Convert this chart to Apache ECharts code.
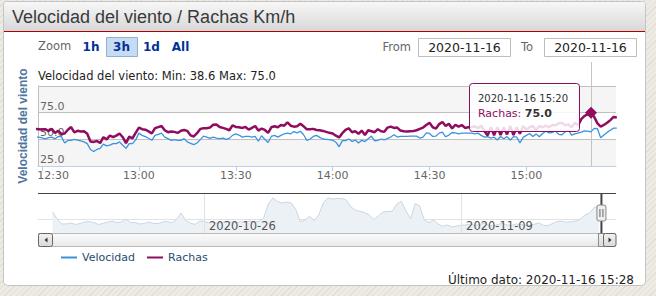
<!DOCTYPE html>
<html><head><meta charset="utf-8">
<script src="https://cdn.jsdelivr.net/npm/echarts@6/dist/echarts.min.js"></script>
<style>
html,body{margin:0;padding:0;width:656px;height:296px;overflow:hidden;
background-color:#eeebe4;
background-image:repeating-linear-gradient(135deg, rgba(120,110,90,0.10) 0 1px, transparent 1px 4px);}
#c{width:656px;height:296px;}
</style></head><body><div id="c"></div>
<script>
// ---------------- DATA ----------------
const chartTitle = 'Velocidad del viento / Rachas Km/h';
const yAxisTitle = 'Velocidad del viento';
const seriesNames = ['Velocidad', 'Rachas'];
const seriesStart = '2020-11-16 12:28';   // first sample, one sample per minute
const stepMinutes = 1;
const velocidad = [52.1,52.0,51.3,50.5,51.5,52.0,50.5,52.5,52.5,46.5,
 49.0,49.1,50.0,49.3,48.5,47.6,46.0,40.5,38.6,40.5,
 41.5,45.5,43.9,44.5,46.0,46.0,47.6,44.5,41.5,46.0,
 46.0,49.5,55.8,53.7,52.5,51.0,49.1,53.7,54.6,55.8,
 52.1,50.6,49.1,49.7,49.1,49.1,50.6,47.6,46.3,45.1,
 46.6,49.7,53.0,52.1,50.9,52.1,51.2,50.6,51.2,50.0,
 50.9,53.7,55.2,54.0,52.1,52.7,52.7,52.1,52.7,48.2,
 53.4,50.0,47.0,52.7,53.7,52.1,53.7,55.2,55.8,55.2,
 57.3,56.1,57.6,54.3,49.1,50.3,52.7,53.7,51.8,50.3,
 50.0,49.7,49.1,47.3,43.0,48.8,48.8,50.3,47.9,49.4,
 46.6,49.1,47.9,50.6,53.0,48.5,49.1,50.3,49.4,50.9,
 52.1,54.3,52.1,52.7,52.7,52.7,53.0,53.0,53.0,51.2,
 52.1,56.1,55.5,52.7,53.0,55.8,56.7,52.4,54.0,56.4,
 56.1,55.2,55.8,55.8,55.8,55.8,55.2,55.8,53.7,52.1,
 52.5,51.2,52.0,49.4,52.7,50.6,52.5,49.4,52.5,52.1,
 46.6,51.8,53.7,55.5,52.7,54.9,52.4,55.5,57.6,56.1,
 56.4,57.9,54.6,54.3,57.0,58.8,54.0,55.2,55.8,56.7,
 57.9,57.6,57.0,60.3,60.0,51.5,54.0,56.5,58.5,60.5,60.5];
const rachas = [59.8,59.5,59.2,59.5,57.8,59.8,56.0,58.0,55.0,55.5,
 59.0,61.5,56.5,58.0,57.3,57.5,55.2,48.0,47.6,48.5,
 46.5,52.0,50.0,53.5,52.0,53.5,55.5,52.0,46.5,52.5,
 51.0,56.0,61.0,59.5,59.0,57.5,55.5,60.5,61.5,62.5,
 58.5,56.7,57.4,57.0,56.0,58.0,58.8,57.9,53.7,52.7,
 55.8,59.8,60.4,60.4,61.0,63.7,64.0,61.6,60.7,59.8,
 58.5,63.1,61.6,61.3,60.7,61.6,59.1,60.7,62.5,58.2,
 60.1,58.8,56.1,61.3,62.2,61.3,63.4,62.8,65.9,62.8,
 61.9,62.2,64.6,62.2,59.5,59.5,59.8,58.8,58.5,57.9,
 57.0,56.1,55.5,53.4,51.8,55.8,58.8,60.4,56.7,57.6,
 55.2,58.2,54.0,58.5,57.6,56.7,59.5,57.6,57.0,61.0,
 61.9,60.7,61.0,58.2,57.6,57.3,57.6,57.9,58.5,59.8,
 61.0,63.4,65.5,61.3,60.1,64.3,66.2,62.5,64.6,60.1,
 63.7,61.9,63.4,60.7,61.3,61.3,62.2,60.4,62.8,57.6,
 53.7,61.3,53.7,61.3,54.0,61.3,54.6,62.5,54.0,61.3,
 55.2,62.5,59.1,61.3,62.5,58.8,62.5,61.3,62.8,61.3,
 63.4,63.1,64.9,65.5,63.1,64.0,61.3,65.5,63.1,69.0,
 72.0,73.5,75.0,71.0,65.0,62.0,63.5,65.5,68.0,71.0,70.5];
const xRange = ['2020-11-16 12:28:45', '2020-11-16 15:27:45'];
const xTicks = ['2020-11-16 12:30', '2020-11-16 13:00', '2020-11-16 13:30', '2020-11-16 14:00', '2020-11-16 14:30', '2020-11-16 15:00'];
const yTicks = [25, 50, 75, 100];
// navigator (whole month, one sample every 6 h)
const navStart = '2020-10-17 18:00';
const navStepHours = 6;
const navVelocidad = [47.3,31.5,20.3,20.3,22.5,19.1,21.4,24.8,25.9,23.6,
 19.1,21.4,24.8,26.3,23.6,24.8,31.5,23.6,23.6,20.3,
 21.4,24.8,21.4,21.4,24.8,25.9,22.5,30.4,45.0,28.1,
 22.5,19.1,26.3,27.0,22.5,24.8,21.4,23.6,27.0,24.8,
 22.5,25.9,23.6,27.0,24.8,25.9,33.8,65.3,78.8,70.9,
 67.5,69.8,67.5,52.9,24.8,29.3,37.6,28.1,40.5,68.6,
 78.8,76.5,77.6,77.6,74.3,58.5,51.8,48.4,46.1,40.5,
 30.4,38.3,47.3,48.8,48.8,65.3,71.3,49.5,31.5,66.4,
 60.8,29.3,23.2,29.3,20.3,15.3,18.0,13.5,15.3,17.3,
 18.0,20.3,16.9,19.1,22.5,18.0,15.8,19.1,21.4,18.0,
 16.9,20.3,19.1,16.9,18.0,19.8,22.5,16.9,16.9,21.8,
 25.9,26.6,24.1,25.4,27.0,31.5,40.5,45.0,57.4,60.8];
const navRange = ['2020-10-16 23:00', '2020-11-17 10:30'];
const navTicks = ['2020-10-26', '2020-11-09'];
const navYTicks = [30];
const zoomButtons = ['1h', '3h', '1d', 'All'];
const selectedZoom = '3h';

// ---------------- HELPERS ----------------
function parseT(s){const p=s.split(' ');const d=p[0].split('-').map(Number);const t=(p[1]||'00:00').split(':').map(Number);
  return new Date(d[0],d[1]-1,d[2],t[0],t[1],t[2]||0).getTime();}
function pad(n){return String(n).padStart(2,'0');}
function fmtDate(ts){const d=new Date(ts);return d.getFullYear()+'-'+pad(d.getMonth()+1)+'-'+pad(d.getDate());}
function fmtHM(ts){const d=new Date(ts);return pad(d.getHours())+':'+pad(d.getMinutes());}
function fmtDT(ts){return fmtDate(ts)+' '+fmtHM(ts);}

const t0 = parseT(seriesStart);
const times = velocidad.map((_,i)=>t0+i*stepMinutes*60000);
const velData = velocidad.map((v,i)=>[times[i], v]);
const racData = rachas.map((v,i)=>[times[i], v]);
const n0 = parseT(navStart);
const navData = navVelocidad.map((v,i)=>[n0+i*navStepHours*3600000, v]);
const xTickVals = xTicks.map(parseT);
const navTickVals = navTicks.map(parseT);
const lastTime = times[times.length-1];
const minVel = Math.min(...velocidad);
const maxRac = Math.max(...rachas);
const peakIdx = rachas.indexOf(maxRac);
const peakTime = times[peakIdx];

const FONT = "'DejaVu Sans', Verdana, sans-serif";
const ARIAL = "'Liberation Sans', Arial, sans-serif";
const BLUE = '#3b93de', PURPLE = '#8f0c5f';

const chart = echarts.init(document.getElementById('c'), null, {renderer:'svg'});
chart.setOption({
  animation: false,
  textStyle: {fontFamily: FONT},
  title: [
    {text: chartTitle, left: 12, top: 6, padding: 0,
     textStyle: {fontFamily: ARIAL, fontSize: 18, fontWeight: 'normal', color: '#3a3a3a', lineHeight: 22}},
    {text: yAxisTitle + ': Min: ' + minVel.toFixed(1) + ' Max: ' + maxRac.toFixed(1), left: 38, top: 69, padding: 0,
     textStyle: {fontFamily: FONT, fontSize: 11.5, fontWeight: 'normal', color: '#222', lineHeight: 14}},
    {text: 'Último dato: ' + fmtDT(lastTime), right: 22, top: 273, padding: 0,
     textStyle: {fontFamily: FONT, fontSize: 12, fontWeight: 'normal', color: '#222', lineHeight: 14}}
  ],
  legend: {left: 61, top: 252, padding: 0, itemWidth: 16, itemHeight: 2, itemGap: 12, icon: 'rect',
    textStyle: {fontSize: 11, color: '#274b6d', fontFamily: FONT},
    data: seriesNames},
  grid: [
    {left: 38, top: 86, width: 578, height: 80, outerBoundsMode: 'none', containLabel: false},
    {left: 38, top: 193, width: 578, height: 40, outerBoundsMode: 'none', containLabel: false}
  ],
  xAxis: [
    {type: 'value', gridIndex: 0, min: parseT(xRange[0]), max: parseT(xRange[1]),
     axisLine: {lineStyle: {color: '#c0d0e0'}},
     axisTick: {show: true, length: 5, lineStyle: {color: '#c0d0e0'}, customValues: xTickVals},
     axisLabel: {customValues: xTickVals,
       formatter: (v) => (v === xTickVals[0] ? '{first|' + fmtHM(v) + '}' : fmtHM(v)),
       rich: {first: {padding: [0, 0, 0, 22], color: '#666', fontSize: 11, fontFamily: FONT}},
       color: '#666', fontSize: 11, margin: 4, fontFamily: FONT},
     splitLine: {show: false}},
    {type: 'value', gridIndex: 1, min: parseT(navRange[0]), max: parseT(navRange[1]), z: 6,
     axisLine: {show: false},
     axisTick: {show: false, customValues: navTickVals},
     axisLabel: {show: true, inside: true, customValues: navTickVals, formatter: (v) => fmtDate(v),
       align: 'left', padding: [0,0,0,5], margin: 1, color: '#555', fontSize: 11.5, fontFamily: FONT},
     splitLine: {show: true, lineStyle: {color: '#e2e2e2'}}}
  ],
  yAxis: [
    {type: 'value', gridIndex: 0, min: yTicks[0], max: yTicks[yTicks.length-1], interval: yTicks[1]-yTicks[0],
     name: yAxisTitle, nameLocation: 'middle', nameRotate: 90, nameGap: 8,
     nameTextStyle: {fontFamily: ARIAL, fontWeight: 'bold', fontSize: 12, color: '#4d759e'},
     axisLine: {show: true, lineStyle: {color: '#c0c0c0'}},
     axisTick: {show: false},
     axisLabel: {inside: true, margin: 2, showMaxLabel: false, formatter: v => v.toFixed(1),
       color: '#666', fontSize: 11, verticalAlign: 'bottom', align: 'left', padding: [0,0,1,0], fontFamily: FONT},
     splitLine: {show: true, lineStyle: {color: '#c0c0c0'}},
     splitArea: {show: true, areaStyle: {color: ['#f5f5f5', '#ffffff']}}},
    {type: 'value', gridIndex: 1, min: 0, max: 90,
     axisLine: {show: false}, axisLabel: {show: false},
     axisTick: {show: false, customValues: navYTicks},
     splitLine: {show: true, lineStyle: {color: '#e2e2e2'}}}
  ],
  series: [
    {name: seriesNames[0], type: 'line', xAxisIndex: 0, yAxisIndex: 0, data: velData, showSymbol: false,
     color: BLUE, lineStyle: {width: 1.3, color: BLUE}, z: 3, silent: true},
    {name: seriesNames[1], type: 'line', xAxisIndex: 0, yAxisIndex: 0, data: racData, showSymbol: false,
     color: PURPLE, lineStyle: {width: 2.5, color: PURPLE}, z: 4, silent: true,
     markPoint: {symbol: 'diamond', symbolSize: 12, silent: true, label: {show: false},
       itemStyle: {color: PURPLE}, data: [{coord: [peakTime, maxRac]}]}},
    {name: 'nav', type: 'line', xAxisIndex: 1, yAxisIndex: 1, data: navData, showSymbol: false,
     lineStyle: {width: 1, color: '#c9d6e3'}, areaStyle: {color: '#ecf1f6', opacity: 1}, silent: true, z: 1}
  ]
});

// ---------------- DECORATION / OVERLAYS ----------------
const peak = chart.convertToPixel({xAxisIndex: 0, yAxisIndex: 0}, [peakTime, maxRac]);
const navEnd = chart.convertToPixel({xAxisIndex: 1, yAxisIndex: 1}, [lastTime, 0])[0];
const g = [];
function grad(a, b){return {type: 'linear', x: 0, y: 0, x2: 0, y2: 1, colorStops: [{offset: 0, color: a}, {offset: 1, color: b}]};}
// panel + header
g.push({type: 'rect', z: -30, silent: true, shape: {x: 3.5, y: 1.5, width: 642, height: 284, r: 4}, style: {fill: '#fff', stroke: '#c4c4c4', lineWidth: 1}});
g.push({type: 'rect', z: -29, silent: true, shape: {x: 4, y: 2, width: 641, height: 29, r: [3,3,0,0]}, style: {fill: grad('#f7f7f7', '#d8d8d8')}});
g.push({type: 'line', z: -28, silent: true, shape: {x1: 4, y1: 31.5, x2: 645, y2: 31.5}, style: {stroke: '#b00000', lineWidth: 1.2}});
// range selector
g.push({type: 'text', z: 10, silent: true, style: {text: 'Zoom', x: 38, y: 46, fontFamily: FONT, fontSize: 11.5, fill: '#666', verticalAlign: 'middle'}});
const btnX = [91, 121.5, 151.5, 180.5];
zoomButtons.forEach((b, i) => {
  if (b === selectedZoom) g.push({type: 'rect', z: 9, silent: true, shape: {x: btnX[i]-15, y: 37.5, width: 31, height: 19}, style: {fill: '#c8dcf1', stroke: '#8eb0d3', lineWidth: 1}});
  g.push({type: 'text', z: 10, silent: true, style: {text: b, x: btnX[i], y: 47, fontFamily: FONT, fontSize: 12, fontWeight: 'bold', fill: '#003399', align: 'center', verticalAlign: 'middle'}});
});
g.push({type: 'text', z: 10, silent: true, style: {text: 'From', x: 411, y: 47, fontFamily: FONT, fontSize: 11.5, fill: '#666', align: 'right', verticalAlign: 'middle'}});
g.push({type: 'rect', z: 9, silent: true, shape: {x: 418.5, y: 38.5, width: 92, height: 18}, style: {fill: '#fff', stroke: '#bdbdbd', lineWidth: 1}});
g.push({type: 'text', z: 10, silent: true, style: {text: fmtDate(times[0]), x: 464.5, y: 47.5, fontFamily: FONT, fontSize: 12.5, fill: '#222', align: 'center', verticalAlign: 'middle'}});
g.push({type: 'text', z: 10, silent: true, style: {text: 'To', x: 521, y: 47, fontFamily: FONT, fontSize: 11.5, fill: '#666', verticalAlign: 'middle'}});
g.push({type: 'rect', z: 9, silent: true, shape: {x: 544.5, y: 38.5, width: 92, height: 18}, style: {fill: '#fff', stroke: '#bdbdbd', lineWidth: 1}});
g.push({type: 'text', z: 10, silent: true, style: {text: fmtDate(lastTime), x: 590.5, y: 47.5, fontFamily: FONT, fontSize: 12.5, fill: '#222', align: 'center', verticalAlign: 'middle'}});
// crosshair
g.push({type: 'line', z: 2, silent: true, shape: {x1: Math.round(peak[0])+0.5, y1: 62, x2: Math.round(peak[0])+0.5, y2: 166}, style: {stroke: '#c4c4c4', lineWidth: 1}});
// tooltip
const tx = peak[0] - 12 - 110, ty = peak[1] - 30;
g.push({type: 'rect', z: 50, silent: true, shape: {x: Math.round(tx)+0.5, y: Math.round(ty)+0.5, width: 110, height: 48, r: 3}, style: {fill: 'rgba(255,255,255,0.85)', stroke: PURPLE, lineWidth: 1}});
g.push({type: 'text', z: 51, silent: true, style: {text: fmtDT(peakTime), x: tx + 9, y: ty + 16, fontFamily: FONT, fontSize: 10, fill: '#333', verticalAlign: 'middle'}});
g.push({type: 'text', z: 51, silent: true, style: {text: '{a|' + seriesNames[1] + ': }{b|' + maxRac.toFixed(1) + '}', x: tx + 9, y: ty + 31, verticalAlign: 'middle',
  rich: {a: {fontFamily: FONT, fontSize: 11, fill: PURPLE, color: PURPLE}, b: {fontFamily: FONT, fontSize: 11, fontWeight: 'bold', fill: '#333', color: '#333'}}}});
// navigator outline + handle
g.push({type: 'line', z: 20, silent: true, shape: {x1: 38, y1: 193.5, x2: 616, y2: 193.5}, style: {stroke: '#444', lineWidth: 1}});
g.push({type: 'line', z: 20, silent: true, shape: {x1: navEnd, y1: 193, x2: navEnd, y2: 233}, style: {stroke: '#444', lineWidth: 2}});
g.push({type: 'rect', z: 21, silent: true, shape: {x: navEnd-4.5, y: 205, width: 9, height: 16, r: 2}, style: {fill: '#eeeeee', stroke: '#888', lineWidth: 1}});
g.push({type: 'line', z: 22, silent: true, shape: {x1: navEnd-1.5, y1: 209, x2: navEnd-1.5, y2: 217}, style: {stroke: '#666', lineWidth: 1}});
g.push({type: 'line', z: 22, silent: true, shape: {x1: navEnd+1.5, y1: 209, x2: navEnd+1.5, y2: 217}, style: {stroke: '#666', lineWidth: 1}});
// scrollbar
g.push({type: 'rect', z: 20, silent: true, shape: {x: 38.5, y: 233.5, width: 577, height: 13}, style: {fill: grad('#fbfbfb', '#e9e9e9'), stroke: '#bbb', lineWidth: 1}});
g.push({type: 'rect', z: 21, silent: true, shape: {x: 38.5, y: 233.5, width: 14, height: 13, r: 2}, style: {fill: grad('#f2f2f2', '#d9d9d9'), stroke: '#666', lineWidth: 1}});
g.push({type: 'polygon', z: 22, silent: true, shape: {points: [[47.5, 237.5], [47.5, 242.5], [44.5, 240]]}, style: {fill: '#333'}});
g.push({type: 'rect', z: 21, silent: true, shape: {x: navEnd-3, y: 233.5, width: 6, height: 13}, style: {fill: grad('#f2f2f2', '#d9d9d9'), stroke: '#888', lineWidth: 1}});
g.push({type: 'rect', z: 21, silent: true, shape: {x: 603.5, y: 233.5, width: 12.5, height: 13, r: 2}, style: {fill: grad('#f2f2f2', '#d9d9d9'), stroke: '#666', lineWidth: 1}});
g.push({type: 'polygon', z: 22, silent: true, shape: {points: [[608.5, 237.5], [608.5, 242.5], [611.5, 240]]}, style: {fill: '#333'}});
chart.setOption({graphic: g});
</script></body></html>
